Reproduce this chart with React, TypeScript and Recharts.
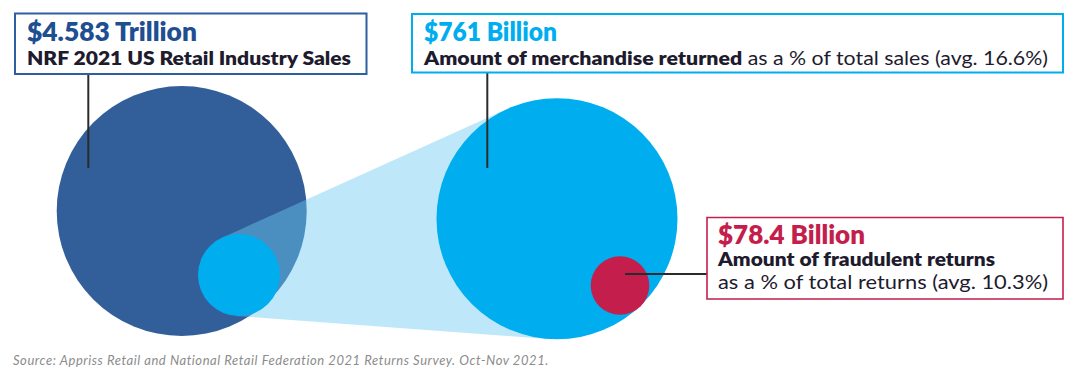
import React from "react";
import {
  ComposedChart,
  Scatter,
  Area,
  XAxis,
  YAxis,
  ReferenceArea,
  ReferenceLine,
} from "recharts";

// values shown in the infographic
const amounts = ["$4.583 Trillion", "$761 Billion", "$78.4 Billion"];
const boldLines = [
  "NRF 2021 US Retail Industry Sales",
  "Amount of merchandise returned",
  "Amount of fraudulent returns",
];
const plainLines = ["", "as a % of total sales (avg. 16.6%)", "as a % of total returns (avg. 10.3%)"];
const circleNames = ["Retail sales", "Returned share", "Merchandise returned", "Fraudulent returns"];
const sourceNote = "Source: Appriss Retail and National Retail Federation 2021 Returns Survey. Oct-Nov 2021.";

const CHART_W = 1080;
const CHART_H = 370;
const xDomain = [0, 1080];
const yDomain = [0, 370];
const pxPerUnit = CHART_W / (xDomain[1] - xDomain[0]);

// layout in chart units
const circleLayout = [
  { x: 181.7, y: 211, r: 125 },
  { x: 239, y: 275, r: 41 },
  { x: 557, y: 218.7, r: 120.5 },
  { x: 620, y: 285.5, r: 29.3 },
];
const circleColors = ["#325F9A", "#00AEEF", "#00AEEF", "#C41E4C"];

const boxLayout = [
  { x1: 15, x2: 366.5, y1: 13.5, y2: 74, pad: 12, base: [41, 65], titleW: 170, lineW: [324], titleSize: 26, textSize: 19.5, sw: 2 },
  { x1: 412, x2: 1063, y1: 14, y2: 72.5, pad: 12, base: [40.5, 64.5], titleW: 133, lineW: [624], titleSize: 26, textSize: 19.5, sw: 2 },
  { x1: 707, x2: 1063, y1: 217.5, y2: 299, pad: 11, base: [244.3, 266.3, 288.7], titleW: 147, lineW: [277, 330], titleSize: 26, textSize: 19.5, sw: 1.6 },
];
const boxColors = ["#2F5F9E", "#00AEEF", "#C41E4C"];
const titleColors = ["#1D4F91", "#00AEEF", "#C41E4C"];

const leaders = [
  [{ x: 88.3, y: 74 }, { x: 88.3, y: 168 }],
  [{ x: 487.3, y: 72.5 }, { x: 487.3, y: 168 }],
  [{ x: 625, y: 274 }, { x: 707, y: 274 }],
];

// external tangents of the small and the big cyan circle -> the light "beam"
function beamBand() {
  const a = circleLayout[1];
  const b = circleLayout[2];
  const dx = b.x - a.x;
  const dy = b.y - a.y;
  const d = Math.hypot(dx, dy);
  const ux = dx / d, uy = dy / d;
  const c = (b.r - a.r) / d;
  const s = Math.sqrt(1 - c * c);
  const pts = [1, -1].map((sign) => {
    const nx = c * ux - sign * s * uy;
    const ny = c * uy + sign * s * ux;
    return [
      { x: a.x - a.r * nx, y: a.y - a.r * ny },
      { x: b.x - b.r * nx, y: b.y - b.r * ny },
    ];
  });
  const poly = [pts[0][0], pts[0][1], pts[1][1], pts[1][0]];
  const xs = poly.map((p) => p.x).sort((m, n) => m - n);
  return xs.map((x) => {
    const ys: number[] = [];
    poly.forEach((p, i) => {
      const q = poly[(i + 1) % poly.length];
      const lo = Math.min(p.x, q.x) - 1e-6;
      const hi = Math.max(p.x, q.x) + 1e-6;
      if (x >= lo && x <= hi) {
        if (Math.abs(q.x - p.x) < 1e-6) ys.push(p.y, q.y);
        else ys.push(p.y + ((x - p.x) * (q.y - p.y)) / (q.x - p.x));
      }
    });
    return { x, band: [Math.min(...ys), Math.max(...ys)] };
  });
}

const beamData = beamBand();
const font = "Lato, 'Open Sans', sans-serif";
const ink = "#1E1B2E";

function boxLabel(i: number) {
  return (props: any) => {
    const vb = props.viewBox;
    const L = boxLayout[i];
    const tx = vb.x + L.pad;
    return (
      <g>
        <text x={tx} y={L.base[0]} fontFamily={font} fontWeight={800} fontSize={L.titleSize} fill={titleColors[i]} textLength={L.titleW} lengthAdjust="spacingAndGlyphs">
          {amounts[i]}
        </text>
        {i === 1 ? (
          <text x={tx} y={L.base[1]} fontFamily={font} fontSize={L.textSize} fill={ink} textLength={L.lineW[0]} lengthAdjust="spacingAndGlyphs">
            <tspan fontWeight={800}>{boldLines[i]}</tspan>
            <tspan fontWeight={400}>{" " + plainLines[i]}</tspan>
          </text>
        ) : (
          <text x={tx} y={L.base[1]} fontFamily={font} fontWeight={800} fontSize={L.textSize} fill={ink} textLength={L.lineW[0]} lengthAdjust="spacingAndGlyphs">
            {boldLines[i]}
          </text>
        )}
        {i === 2 && (
          <text x={tx} y={L.base[2]} fontFamily={font} fontWeight={400} fontSize={L.textSize} fill={ink} textLength={L.lineW[1]} lengthAdjust="spacingAndGlyphs">
            {plainLines[i]}
          </text>
        )}
      </g>
    );
  };
}

function circleShape(color: string) {
  return (props: any) => (
    <circle cx={props.cx} cy={props.cy} r={props.payload.r * pxPerUnit} fill={color} />
  );
}

export default function App() {
  return (
    <div style={{ position: "absolute", left: 0, top: 0, width: CHART_W, height: CHART_H, background: "#fff" }}>
      <ComposedChart width={CHART_W} height={CHART_H} data={beamData} margin={{ top: 0, right: 0, bottom: 0, left: 0 }}>
        <XAxis type="number" dataKey="x" domain={xDomain} allowDataOverflow hide />
        <YAxis type="number" dataKey="y" domain={yDomain} allowDataOverflow reversed hide />
        {circleLayout.slice(0, 1).map((c, i) => (
          <Scatter key={circleNames[i]} name={circleNames[i]} data={[c]} shape={circleShape(circleColors[i])} isAnimationActive={false} zIndex={10} />
        ))}
        <Area dataKey="band" type="linear" stroke="none" fill="#6BCAF1" fillOpacity={0.44} isAnimationActive={false} dot={false} activeDot={false} zIndex={20} />
        {circleLayout.slice(1).map((c, j) => (
          <Scatter key={circleNames[j + 1]} name={circleNames[j + 1]} data={[c]} shape={circleShape(circleColors[j + 1])} isAnimationActive={false} zIndex={30 + j} />
        ))}
        {leaders.map((seg, i) => (
          <ReferenceLine key={"l" + i} segment={seg} stroke="#2B2B2B" strokeWidth={2} zIndex={60} />
        ))}
        {boxLayout.map((b, i) => (
          <ReferenceArea
            key={"b" + i}
            x1={b.x1}
            x2={b.x2}
            y1={b.y1}
            y2={b.y2}
            fill="#fff"
            fillOpacity={1}
            stroke={boxColors[i]}
            strokeWidth={b.sw}
            label={boxLabel(i)}
            zIndex={70}
          />
        ))}
      </ComposedChart>
      <div
        style={{
          position: "absolute",
          left: 13,
          top: 352,
          fontFamily: font,
          fontStyle: "italic",
          fontSize: 13,
          letterSpacing: 0.55,
          color: "#8C8C8C",
          whiteSpace: "nowrap",
        }}
      >
        {sourceNote}
      </div>
    </div>
  );
}
